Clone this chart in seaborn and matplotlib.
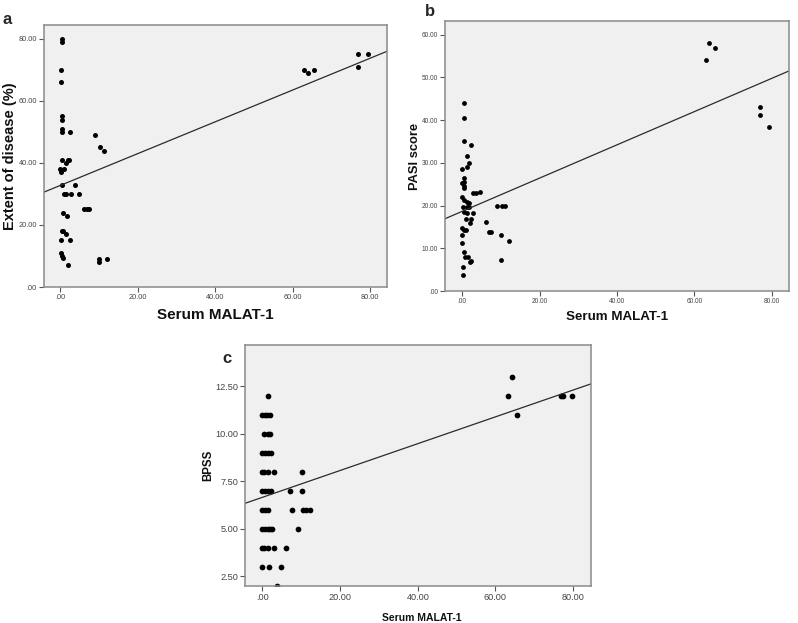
import numpy as np
import pandas as pd
import matplotlib
matplotlib.use("Agg")
import matplotlib.pyplot as plt
import seaborn as sns
from matplotlib.ticker import FuncFormatter

# ---------------- data ----------------
# Panel a: Serum MALAT-1 vs Extent of disease (%)
a_malat = [0.5, 0.5, 0.3, 0.3, 0.4, 0.4, 0.5, 0.5, 2.4, 9.1, 10.2, 11.3,
           0.5, 1.5, 2.0, 2.3, 0.0, 0.3, 1.0, 0.5, 3.8,
           1.0, 1.6, 2.9, 4.8, 6.1, 7.0, 7.5, 0.6, 1.8,
           0.4, 0.8, 1.5, 0.3, 2.4, 0.2, 0.4, 0.8, 10.0, 10.0, 12.2, 1.9,
           63.0, 64.1, 65.5, 77.0, 79.4, 77.0]
a_extent = [80, 79, 70, 66, 55, 54, 51, 50, 50, 49, 45, 44,
            41, 40, 41, 41, 38, 37, 38, 33, 33,
            30, 30, 30, 30, 25, 25, 25, 24, 23,
            18, 18, 17, 15, 15, 11, 10, 9.5, 9, 8, 9, 7,
            70, 69, 70, 75, 75, 71]

# Panel b: Serum MALAT-1 vs PASI score
b_malat = [0.5, 0.5, 0.5, 2.1, 1.2, 1.6, 1.1, 0.0,
           0.5, 0.5, 0.0, 0.3, 0.3, 2.7, 3.5, 4.6, 0.0, 0.3,
           1.2, 1.6, 0.1, 1.2, 1.6, 9.0, 10.3, 11.1,
           0.3, 2.7, 1.3, 0.9, 2.2, 2.0, 6.0, 6.9, 7.3, 10.0, 12.1,
           0.0, 0.3, 1.0, 0.0, 0.0, 0.3, 0.7, 1.5, 2.2, 1.9, 10.0, 0.1, 0.1,
           63.9, 65.3, 62.9, 77.0, 77.0, 79.4]
b_pasi = [44.1, 40.5, 35.1, 34.1, 31.6, 30.0, 29.1, 28.5,
          26.5, 25.6, 25.2, 24.0, 24.6, 23.0, 23.0, 23.2, 22.1, 21.3,
          20.9, 20.5, 19.7, 19.7, 19.7, 19.9, 19.9, 19.9,
          18.4, 18.2, 18.2, 16.8, 16.8, 16.0, 16.2, 13.9, 13.9, 13.2, 11.6,
          14.8, 14.3, 14.3, 13.1, 11.2, 9.2, 7.9, 7.9, 7.1, 6.9, 7.3, 5.7, 3.7,
          58.0, 56.8, 54.0, 43.0, 41.1, 38.5]

# Panel c: Serum MALAT-1 vs BPSS
c_malat = [1.3,
           0.0, 0.6, 1.2, 2.0,
           0.5, 1.3, 1.9,
           0.0, 0.7, 1.3, 2.2,
           0.0, 0.5, 1.3, 2.9, 10.1,
           0.0, 0.7, 1.3, 2.3, 7.0, 10.1,
           0.0, 0.7, 1.3, 7.6, 10.5, 11.3, 12.2,
           0.0, 0.7, 1.3, 1.9, 2.4, 9.1,
           0.0, 0.5, 1.3, 2.9, 6.0,
           0.0, 1.6, 4.7,
           3.8,
           64.2, 63.1, 65.6, 77.0, 77.3, 79.6]
c_bpss = [12,
          11, 11, 11, 11,
          10, 10, 10,
          9, 9, 9, 9,
          8, 8, 8, 8, 8,
          7, 7, 7, 7, 7, 7,
          6, 6, 6, 6, 6, 6, 6,
          5, 5, 5, 5, 5, 5,
          4, 4, 4, 4, 4,
          3, 3, 3,
          2,
          13, 12, 11, 12, 12, 12]

xticks = [0, 20, 40, 60, 80]
a_yticks = [0, 20, 40, 60, 80]
b_yticks = [0, 10, 20, 30, 40, 50, 60]
c_yticks = [2.5, 5.0, 7.5, 10.0, 12.5]

xlabel = "Serum MALAT-1"
ylabels = ["Extent of disease (%)", "PASI score", "BPSS"]
letters = ["a", "b", "c"]

# ---------------- style ----------------
sns.set_style("ticks")
plt.rcParams["font.family"] = ["Liberation Sans", "DejaVu Sans"]


def spss_fmt(v, pos):
    s = f"{v:.2f}"
    if s.startswith("0."):
        s = s[1:]
    return s


fig = plt.figure(figsize=(7.98, 6.23), dpi=100)
W, H = 798, 623


def add_ax(l, t, r, b):
    return fig.add_axes([l / W, 1 - b / H, (r - l) / W, (b - t) / H])


ax_a = add_ax(44, 25, 387, 287)
ax_b = add_ax(445, 21, 789, 291)
ax_c = add_ax(245, 345, 591, 586)

panels = [
    (ax_a, a_malat, a_extent, (-4.2, 84.4), (0, 84.5), a_yticks, 13, 5.3, 10.5, 11.0,
     (-0.078, 0.5), (0.5, -0.082)),
    (ax_b, b_malat, b_pasi, (-4.5, 84.5), (0, 63.2), b_yticks, 12, 4.7, 9.3, 9.6,
     (-0.07, 0.5), (0.5, -0.075)),
    (ax_c, c_malat, c_bpss, (-4.5, 84.6), (2.0, 14.67), c_yticks, 17, 6.6, 8.3, 7.5,
     (-0.09, 0.5), (0.51, -0.11)),
]

for (ax, xs, ys, xl, yl, yt, ms, tfs, ylfs, xlfs, ylc, xlc), ylab in zip(panels, ylabels):
    df = pd.DataFrame({"x": xs, "y": ys})
    ax.set_facecolor("#f0f0f0")
    ax.set_xlim(*xl)
    ax.set_ylim(*yl)
    sns.regplot(data=df, x="x", y="y", ax=ax, ci=None, truncate=False,
                scatter_kws=dict(s=ms, color="black", linewidths=0, alpha=1),
                line_kws=dict(color="#2b2b2b", lw=0.9))
    ax.set_xlim(*xl)
    ax.set_ylim(*yl)
    ax.set_xticks(xticks)
    ax.set_yticks(yt)
    ax.xaxis.set_major_formatter(FuncFormatter(spss_fmt))
    ax.yaxis.set_major_formatter(FuncFormatter(spss_fmt))
    ax.tick_params(axis="both", direction="out", length=3.5, width=0.8,
                   color="#555555", labelsize=tfs, labelcolor="#444444", pad=1.5)
    ax.tick_params(top=False, right=False)
    for sp in ax.spines.values():
        sp.set_visible(True)
        sp.set_color("#8a8a8a")
        sp.set_linewidth(1.1)
    ax.set_xlabel(xlabel, fontsize=xlfs, fontweight="bold", color="#111111")
    ax.set_ylabel(ylab, fontsize=ylfs, fontweight="bold", color="#111111")
    ax.yaxis.set_label_coords(*ylc)
    ax.xaxis.set_label_coords(*xlc)
    ax.grid(False)

# panel letters
fig.text(7 / W, 1 - 19 / H, letters[0], fontsize=12, fontweight="bold",
         ha="center", va="center")
fig.text(430 / W, 1 - 11 / H, letters[1], fontsize=12, fontweight="bold",
         ha="center", va="center")
fig.text(227 / W, 1 - 358 / H, letters[2], fontsize=12, fontweight="bold",
         ha="center", va="center")

fig.savefig("out.png", dpi=100, facecolor="white")
